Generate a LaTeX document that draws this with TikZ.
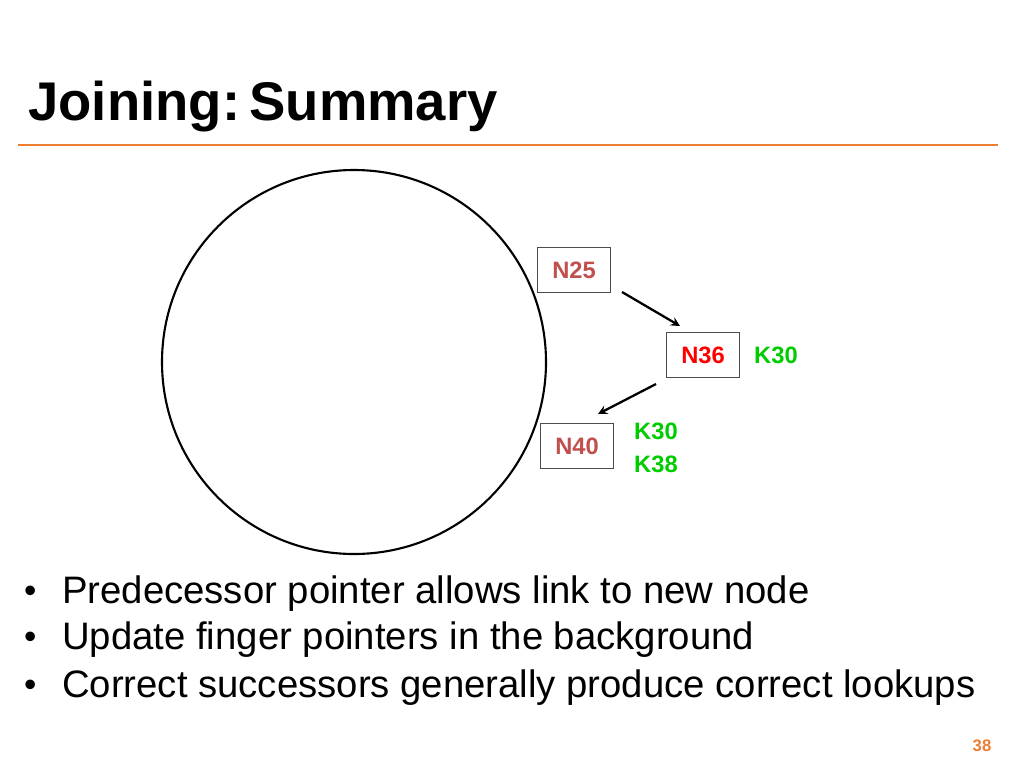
\documentclass[tikz,border=0pt]{standalone}
\usepackage{fontspec}
\setmainfont{Liberation Sans}
\usetikzlibrary{positioning}
\definecolor{slideorange}{RGB}{237,125,49}
\definecolor{nodered}{RGB}{192,80,77}
\definecolor{keygreen}{RGB}{0,204,0}
\tikzset{
  ringnode/.style={draw=black!70,fill=white,minimum width=1.45cm,minimum height=0.9cm,font=\fontsize{13.5}{16}\selectfont\bfseries},
  keylabel/.style={text=keygreen,font=\fontsize{13.5}{16}\selectfont\bfseries},
  pointer/.style={->,line width=1.3pt,>={stealth}},
  bullet/.style={anchor=west,font=\fontsize{21.8}{26}\selectfont}
}
\begin{document}
\begin{tikzpicture}[x=0.02cm,y=-0.02cm]
        \useasboundingbox (0,0) rectangle (1024,768);
        % Titel
        \node[anchor=base west,font=\fontsize{31}{36}\selectfont\bfseries,inner sep=0] (title) at (28,120) {Joining:\hspace{-0.2em} Summary};
        \draw[slideorange,line width=1.2pt] (18,145) -- (998,145);
        % Ring
        \draw[line width=1.2pt] (354,362) circle (192);
        % Knoten
        \node[ringnode,text=nodered] (n25) at (574,270) {N25};
        \node[ringnode,text=red] (n36) at (703,355) {N36};
        \node[keylabel,anchor=west] (k36) at (748,355) {K30};
        \node[ringnode,text=nodered] (n40) at (577,446) {N40};
        \node[keylabel,anchor=west] (k30) at (628,431) {K30};
        \node[keylabel,anchor=west] (k38) at (628,464) {K38};
        % Zeiger
        \coordinate (p1s) at (622,292);
        \coordinate (p1e) at (680,326);
        \coordinate (p2s) at (656,384);
        \coordinate (p2e) at (598,414);
        \draw[pointer] (p1s) -- (p1e);
        \draw[pointer] (p2s) -- (p2e);
        % Text
        \node[anchor=west,font=\fontsize{20}{24}\selectfont] (d1) at (18,594) {\textbullet};
        \node[anchor=west,font=\fontsize{20}{24}\selectfont] (d2) at (18,640) {\textbullet};
        \node[anchor=west,font=\fontsize{20}{24}\selectfont] (d3) at (18,688) {\textbullet};
        \node[bullet] (b1) at (56,594) {Predecessor pointer allows link to new node};
        \node[bullet] (b2) at (56,640) {Update finger pointers in the background};
        \node[bullet] (b3) at (56,688) {Correct successors generally produce correct lookups};
        \node[text=slideorange,font=\fontsize{9.5}{11}\selectfont\bfseries] (page) at (982,746) {38};
      \end{tikzpicture}
\end{document}
